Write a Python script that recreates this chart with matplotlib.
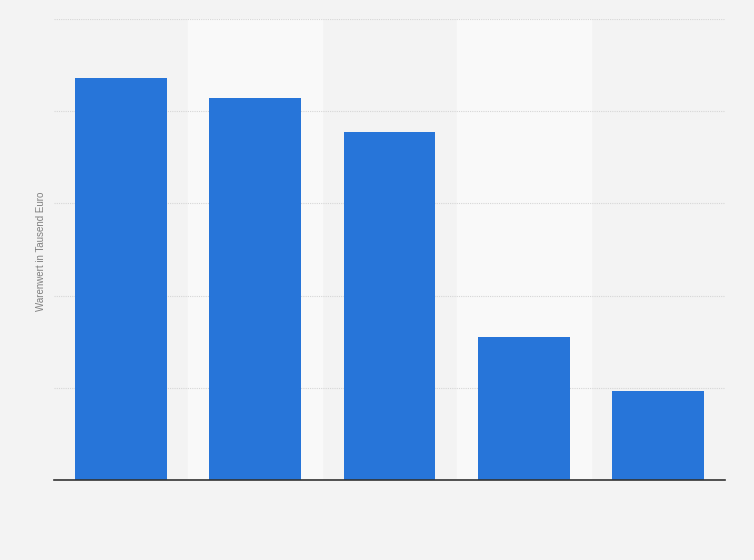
import matplotlib.pyplot as plt

# Werte (Skala ohne Beschriftung, 0 bis 5)
categories = ["A", "B", "C", "D", "E"]
values = [4.36, 4.14, 3.77, 1.55, 0.97]
y_ticks = [0, 1, 2, 3, 4, 5]

fig = plt.figure(figsize=(7.54, 5.6), dpi=100)
fig.patch.set_facecolor("#f3f3f3")
ax = fig.add_axes([0.0716, 0.1429, 0.8899, 0.8232])
ax.set_facecolor("#f3f3f3")

x = list(range(len(categories)))

# helle Streifen hinter jeder zweiten Kategorie
for i in x:
    if i % 2 == 1:
        ax.axvspan(i - 0.5, i + 0.5, color="#f9f9f9", zorder=0)

ax.bar(x, values, width=0.685, color="#2775d9", zorder=3)

ax.set_xlim(-0.5, len(categories) - 0.5)
ax.set_ylim(0, 5)
ax.set_yticks(y_ticks)
ax.set_xticks([])
ax.tick_params(axis="y", length=0, labelleft=False)
ax.grid(axis="y", color="#d6d6d6", linestyle=(0, (1, 1)), linewidth=0.8, zorder=1)

for side in ["top", "right", "left"]:
    ax.spines[side].set_visible(False)
ax.spines["bottom"].set_color("#333333")
ax.spines["bottom"].set_linewidth(1.2)
ax.spines["bottom"].set_zorder(4)

ax.set_ylabel("Warenwert in Tausend Euro", fontsize=7, color="#808080",
              family=["Liberation Sans", "DejaVu Sans"])
ax.yaxis.set_label_coords(-0.012, 0.497)

fig.savefig("out.png", dpi=100, facecolor=fig.get_facecolor())
